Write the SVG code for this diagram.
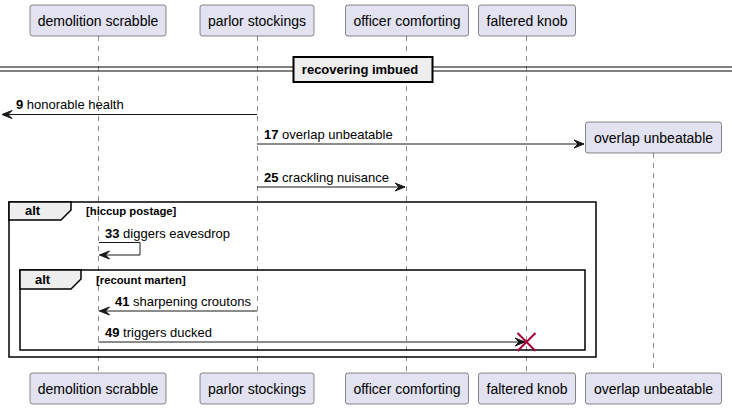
<svg xmlns="http://www.w3.org/2000/svg" width="732" height="409" viewBox="0 0 732 409">
<style>
.pbox{fill:#E2E2F0;stroke:#181818;stroke-width:0.5}
.ptxt{font-family:"Liberation Sans",Arial,sans-serif;font-size:14px;fill:#000;text-anchor:middle}
.life{stroke:#181818;stroke-width:0.5;stroke-dasharray:5,5;fill:none}
.msg{stroke:#181818;stroke-width:1;fill:none}
.head{fill:#181818;stroke:#181818;stroke-width:1}
.mtxt{font-family:"Liberation Sans",Arial,sans-serif;font-size:13px;fill:#000}
.num{font-weight:bold}
.frame{fill:none;stroke:#000;stroke-width:1.5}
.tab{fill:#EEEEEE;stroke:#000;stroke-width:1.5}
.ftxt{font-family:"Liberation Sans",Arial,sans-serif;font-size:13px;font-weight:bold;fill:#000}
.ctxt{font-family:"Liberation Sans",Arial,sans-serif;font-size:11.3px;font-weight:bold;fill:#000}
</style>
<rect width="732" height="409" fill="#FFFFFF"/>
<g id="lifelines">
<line class="life" x1="98.5" y1="36" x2="98.5" y2="373"/>
<line class="life" x1="257.5" y1="36" x2="257.5" y2="373"/>
<line class="life" x1="406.5" y1="36" x2="406.5" y2="373"/>
<line class="life" x1="526.5" y1="36" x2="526.5" y2="373"/>
<line class="life" x1="653.5" y1="153" x2="653.5" y2="373"/>
</g>
<g id="divider">
<line x1="0" y1="67" x2="732" y2="67" stroke="#000" stroke-width="1"/>
<line x1="0" y1="71" x2="732" y2="71" stroke="#000" stroke-width="1"/>
<rect x="293.5" y="57" width="139" height="25" fill="#EEEEEE" stroke="#000" stroke-width="2"/>
<text class="ftxt" x="360" y="74" text-anchor="middle">recovering imbued</text>
</g>
<g id="alt-outer">
<rect class="frame" x="9" y="202" width="587" height="155"/>
<path class="tab" d="M9,202 L71,202 L71,210 L61,220 L9,220 Z"/>
<text class="ftxt" x="25" y="215">alt</text>
<text class="ctxt" x="86" y="215">[hiccup postage]</text>
</g>
<g id="alt-inner">
<rect class="frame" x="20" y="270" width="565" height="80"/>
<path class="tab" d="M20,270 L81,270 L81,279 L71,289 L20,289 Z"/>
<text class="ftxt" x="35" y="284">alt</text>
<text class="ctxt" x="96" y="284">[recount marten]</text>
</g>
<g id="demolition-scrabble">
<rect class="pbox" x="30" y="5" width="136" height="31" rx="2.5"/>
<text class="ptxt" x="98" y="26">demolition scrabble</text>
<rect class="pbox" x="30" y="373" width="136" height="31" rx="2.5"/>
<text class="ptxt" x="98" y="394">demolition scrabble</text>
</g>
<g id="parlor-stockings">
<rect class="pbox" x="200" y="5" width="114" height="31" rx="2.5"/>
<text class="ptxt" x="257" y="26">parlor stockings</text>
<rect class="pbox" x="200" y="373" width="114" height="31" rx="2.5"/>
<text class="ptxt" x="257" y="394">parlor stockings</text>
</g>
<g id="officer-comforting">
<rect class="pbox" x="345.5" y="5" width="123" height="31" rx="2.5"/>
<text class="ptxt" x="407" y="26">officer comforting</text>
<rect class="pbox" x="345.5" y="373" width="123" height="31" rx="2.5"/>
<text class="ptxt" x="407" y="394">officer comforting</text>
</g>
<g id="faltered-knob">
<rect class="pbox" x="478.5" y="5" width="97" height="31" rx="2.5"/>
<text class="ptxt" x="527" y="26">faltered knob</text>
<rect class="pbox" x="478.5" y="373" width="97" height="31" rx="2.5"/>
<text class="ptxt" x="527" y="394">faltered knob</text>
</g>
<g id="overlap-unbeatable">
<rect class="pbox" x="585.5" y="122" width="136" height="31" rx="2.5"/>
<text class="ptxt" x="653.5" y="143">overlap unbeatable</text>
<rect class="pbox" x="585.5" y="373" width="136" height="31" rx="2.5"/>
<text class="ptxt" x="653.5" y="394">overlap unbeatable</text>
</g>
<g id="connectors">
<line class="msg" x1="257" y1="114.5" x2="2" y2="114.5"/>
<polygon class="head" points="2,114.5 12,110.5 8,114.5 12,118.5"/>
<text class="mtxt" x="16" y="109"><tspan class="num">9</tspan> honorable health</text>

<line class="msg" x1="257" y1="144" x2="584" y2="144"/>
<polygon class="head" points="584,144 574,140 578,144 574,148"/>
<text class="mtxt" x="264" y="139"><tspan class="num">17</tspan> overlap unbeatable</text>

<line class="msg" x1="257" y1="187" x2="405" y2="187"/>
<polygon class="head" points="405,187 395,183 399,187 395,191"/>
<text class="mtxt" x="264" y="182"><tspan class="num">25</tspan> crackling nuisance</text>

<polyline class="msg" points="99,242.5 140,242.5 140,255 99.5,255"/>
<polygon class="head" points="99.5,255 109.5,251 105.5,255 109.5,259"/>
<text class="mtxt" x="105" y="238"><tspan class="num">33</tspan> diggers eavesdrop</text>

<line class="msg" x1="257" y1="311" x2="99.5" y2="311"/>
<polygon class="head" points="99.5,311 109.5,307 105.5,311 109.5,315"/>
<text class="mtxt" x="115" y="306"><tspan class="num">41</tspan> sharpening croutons</text>

<line class="msg" x1="98.5" y1="342" x2="525" y2="342"/>
<polygon class="head" points="525,342 515,338 519,342 515,346"/>
<text class="mtxt" x="105" y="337"><tspan class="num">49</tspan> triggers ducked</text>
<g stroke="#A80036" stroke-width="2">
<line x1="517.5" y1="333" x2="535.5" y2="351"/>
<line x1="535.5" y1="333" x2="517.5" y2="351"/>
</g>
</g>
</svg>
